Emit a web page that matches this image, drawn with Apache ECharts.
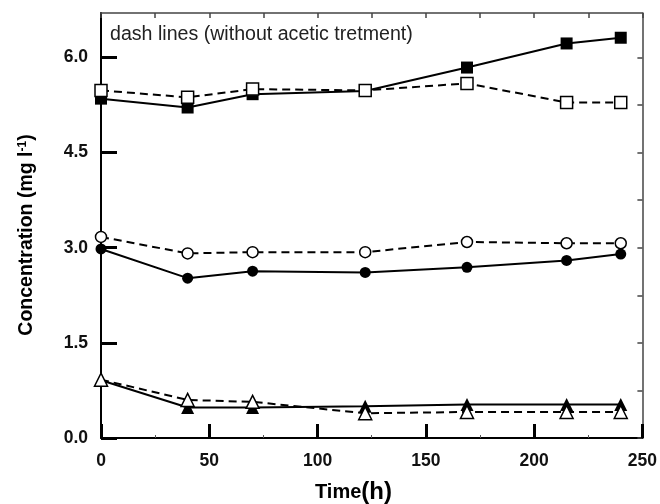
<!DOCTYPE html>
<html>
<head>
<meta charset="utf-8">
<script src="https://cdn.jsdelivr.net/npm/echarts@6/dist/echarts.min.js"></script>
<style>html,body{margin:0;padding:0;background:#fff}#c{width:660px;height:504px}</style>
</head>
<body>
<div id="c"></div>
<script>
// Time points (h)
const timeH = [0, 40, 70, 122, 169, 215, 240];
// Solid lines (with acetic treatment)
const squaresFilled = [5.35, 5.21, 5.42, 5.47, 5.84, 6.22, 6.31];
const circlesFilled = [2.98, 2.52, 2.63, 2.61, 2.69, 2.80, 2.90];
const trianglesFilled = [0.91, 0.48, 0.48, 0.50, 0.53, 0.53, 0.53];
// Dashed lines (without acetic treatment)
const squaresOpen = [5.48, 5.37, 5.50, 5.48, 5.59, 5.29, 5.29];
const circlesOpen = [3.17, 2.91, 2.93, 2.93, 3.09, 3.07, 3.07];
const trianglesOpen = [0.92, 0.60, 0.57, 0.39, 0.41, 0.41, 0.41];
// Axis tick labels
const yTickValues = [0, 1.5, 3.0, 4.5, 6.0];
const yMinorValues = [0, 0.75, 1.5, 2.25, 3.0, 3.75, 4.5, 5.25, 6.0];
const xTickLabels = [0, 50, 100, 150, 200, 250];

const pair = arr => timeH.map((t, i) => [t, arr[i]]);
const chart = echarts.init(document.getElementById('c'), null, {renderer: 'canvas'});
const FONT = 'Liberation Sans, Arial, sans-serif';

function mk(name, data, symbol, filled, dashed, size) {
  return {
    name, type: 'line', data: pair(data), symbol, symbolSize: size,
    clip: false, z: filled ? 3 : 4,
    lineStyle: {color: '#000', width: 2, type: dashed ? [8, 5] : 'solid'},
    itemStyle: {color: filled ? '#000' : '#fff', borderColor: '#000', borderWidth: filled ? 0 : 1.5},
    emphasis: {disabled: true}
  };
}

chart.setOption({
  animation: false,
  backgroundColor: '#fff',
  grid: {left: 101, right: 15, top: 13, bottom: 66},
  xAxis: [{
    type: 'value', min: 0, max: 250, interval: 50, position: 'bottom',
    axisLine: {show: true, onZero: false, lineStyle: {color: '#000', width: 2}},
    axisTick: {show: true, inside: true, length: 14, lineStyle: {color: '#000', width: 3}},
    minorTick: {show: true, splitNumber: 2, length: 3, lineStyle: {color: '#555', width: 1}},
    axisLabel: {margin: 14, fontFamily: FONT, fontWeight: 'bold', fontSize: 17.5, color: '#111',
      customValues: xTickLabels},
    splitLine: {show: false}
  }, {
    type: 'value', min: 0, max: 250, interval: 25, position: 'top',
    axisLine: {show: true, onZero: false, lineStyle: {color: '#444', width: 1.5}},
    axisTick: {show: true, inside: true, length: 5, lineStyle: {color: '#444', width: 1.5}},
    axisLabel: {show: false}, splitLine: {show: false}
  }],
  yAxis: [{
    type: 'value', min: 0, max: 6.7, position: 'left',
    axisLine: {show: true, onZero: false, lineStyle: {color: '#000', width: 2}},
    axisTick: {show: true, inside: true, length: 16, lineStyle: {color: '#000', width: 3},
      customValues: yTickValues},
    axisLabel: {margin: 13, fontFamily: FONT, fontWeight: 'bold', fontSize: 17.5, color: '#111',
      customValues: yTickValues, formatter: v => v.toFixed(1)},
    splitLine: {show: false}
  }, {
    type: 'value', min: 0, max: 6.7, position: 'right',
    axisLine: {show: true, onZero: false, lineStyle: {color: '#444', width: 1.5}},
    axisTick: {show: true, inside: true, length: 5, lineStyle: {color: '#444', width: 1.5},
      customValues: yMinorValues},
    axisLabel: {show: false}, splitLine: {show: false}
  }],
  graphic: [{
    type: 'text', left: 110, top: 25,
    style: {text: 'dash lines (without acetic tretment)', font: '19.6px ' + FONT, fill: '#222'}
  }, {
    type: 'text', x: 27, y: 235, rotation: Math.PI / 2,
    style: {
      text: '{a|Concentration (mg l}{s|-1}{a|)}', align: 'center', verticalAlign: 'middle',
      rich: {
        a: {fontFamily: FONT, fontWeight: 'bold', fontSize: 19.5, fill: '#000'},
        s: {fontFamily: FONT, fontWeight: 'bold', fontSize: 12, fill: '#000', verticalAlign: 'top', padding: [0, 0, 9, 0]}
      }
    }
  }, {
    type: 'text', x: 315, y: 492,
    style: {
      text: '{a|Time}{b|(h)}', align: 'left', verticalAlign: 'middle',
      rich: {
        a: {fontFamily: FONT, fontWeight: 'bold', fontSize: 20, fill: '#000'},
        b: {fontFamily: FONT, fontWeight: 'bold', fontSize: 24, fill: '#000'}
      }
    }
  }],
  series: [
    mk('squaresOpen', squaresOpen, 'rect', false, true, 12),
    mk('squaresFilled', squaresFilled, 'rect', true, false, 12),
    mk('circlesOpen', circlesOpen, 'circle', false, true, 11),
    mk('circlesFilled', circlesFilled, 'circle', true, false, 11),
    mk('trianglesOpen', trianglesOpen, 'triangle', false, true, 13),
    mk('trianglesFilled', trianglesFilled, 'triangle', true, false, 13)
  ]
});
</script>
</body>
</html>
